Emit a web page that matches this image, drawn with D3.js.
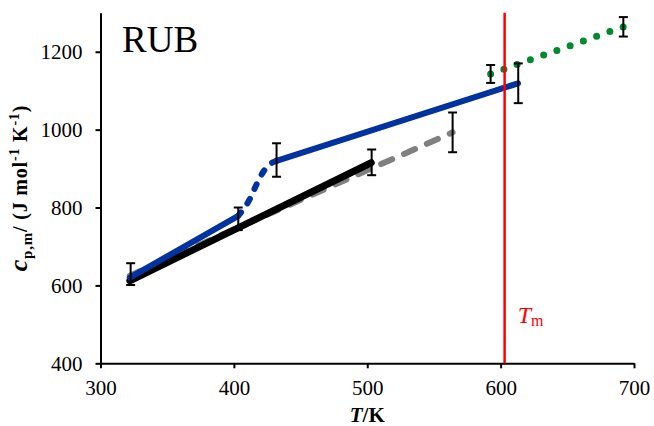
<!DOCTYPE html>
<html>
<head>
<meta charset="utf-8">
<script src="https://cdn.jsdelivr.net/npm/d3@7"></script>
<style>
  body { margin: 0; background: #fff; }
  svg { display: block; }
  .axis path, .axis line { stroke: #000; stroke-width: 2; }
</style>
</head>
<body>
<svg id="chart" width="654" height="426"></svg>
<script>
// Data (T in K, cp,m in J mol-1 K-1)
const xTicks = [300, 400, 500, 600, 700];
const yTicks = [400, 600, 800, 1000, 1200];

// black solid fit
const blackLine = [[322, 612], [503, 915]];
// grey dashed fit
const greyLine = [[322, 625], [564, 993]];
// blue: solid low part, dashed transition, solid high part
const blueLow = [[322, 620], [403, 778]];
const blueStep = [[403, 778], [407, 795], [412, 822], [416, 852], [420, 880], [425, 905], [432, 920]];
const blueHigh = [[432, 920], [613, 1119]];
// green dotted liquid part
const greenLine = [[592.5, 1143], [692, 1264]];

// error bars: temperature, value, half-width
const errT = [322.6, 403.3, 432, 503.3, 564, 613.2, 592.5, 692];
const errV = [629, 771, 922, 916, 993, 1119, 1143, 1264];
const errE = [28, 29, 43, 33, 51, 51, 23, 25];

const meltingT = 603;

// ---------------------------------------------------
const svg = d3.select("#chart");
const margin = { left: 100.5, right: 20, top: 12.8, bottom: 62.7 };
const W = 654, H = 426;
const serif = "'Liberation Serif', 'Times New Roman', serif";

const x = d3.scaleLinear().domain([300, 700]).range([margin.left, W - margin.right]);
const y = d3.scaleLinear().domain([400, 1300]).range([H - margin.bottom, margin.top]);

const line = d3.line().x(d => x(d[0])).y(d => y(d[1]));
const curve = d3.line().x(d => x(d[0])).y(d => y(d[1])).curve(d3.curveMonotoneX);

// Axes
svg.append("g")
    .attr("class", "axis")
    .attr("transform", `translate(0,${y(400)})`)
    .call(d3.axisBottom(x).tickValues(xTicks).tickFormat(d3.format("d"))
        .tickSize(5).tickSizeOuter(0).tickPadding(12))
    .call(g => g.selectAll("text").attr("dy", "0.71em"))
    .attr("font-family", serif).attr("font-size", 21);

svg.append("g")
    .attr("class", "axis")
    .attr("transform", `translate(${x(300)},0)`)
    .call(d3.axisLeft(y).tickValues(yTicks).tickFormat(d3.format("d"))
        .tickSize(5).tickSizeOuter(0).tickPadding(13))
    .attr("font-family", serif).attr("font-size", 21);

// Lines
svg.append("path").attr("d", line(greyLine))
    .attr("fill", "none").attr("stroke", "#808080").attr("stroke-width", 6)
    .attr("stroke-dasharray", "12,13").attr("stroke-linecap", "round");

svg.append("path").attr("d", line(blackLine))
    .attr("fill", "none").attr("stroke", "#000").attr("stroke-width", 7)
    .attr("stroke-linecap", "round");

svg.append("path").attr("d", line(blueLow))
    .attr("fill", "none").attr("stroke", "#0032a0").attr("stroke-width", 6)
    .attr("stroke-linecap", "round");

svg.append("path").attr("d", curve(blueStep))
    .attr("fill", "none").attr("stroke", "#0032a0").attr("stroke-width", 6)
    .attr("stroke-dasharray", "5,11").attr("stroke-linecap", "round");

svg.append("path").attr("d", line(blueHigh))
    .attr("fill", "none").attr("stroke", "#0032a0").attr("stroke-width", 6)
    .attr("stroke-linecap", "round");

// green dotted: 10 gaps between the end points
const green = svg.append("path").attr("d", line(greenLine))
    .attr("fill", "none").attr("stroke", "#008a30").attr("stroke-width", 7)
    .attr("stroke-linecap", "round");
const gLen = green.node().getTotalLength();
green.attr("stroke-dasharray", `0,${gLen / 10 - 0.02}`);

// Error bars
const cap = 4.5;
const bars = svg.append("g").attr("stroke", "#000").attr("stroke-width", 2);
errT.forEach((t, i) => {
    const cx = x(t), y0 = y(errV[i] - errE[i]), y1 = y(errV[i] + errE[i]);
    bars.append("line").attr("x1", cx).attr("x2", cx).attr("y1", y0).attr("y2", y1);
    bars.append("line").attr("x1", cx - cap).attr("x2", cx + cap).attr("y1", y0).attr("y2", y0);
    bars.append("line").attr("x1", cx - cap).attr("x2", cx + cap).attr("y1", y1).attr("y2", y1);
});

// Melting temperature
svg.append("line")
    .attr("x1", x(meltingT)).attr("x2", x(meltingT))
    .attr("y1", y(1300)).attr("y2", y(400))
    .attr("stroke", "#ff0000").attr("stroke-width", 2.5);

const tm = svg.append("text")
    .attr("x", x(meltingT) + 13).attr("y", 323)
    .attr("font-family", serif).attr("fill", "#ff0000");
tm.append("tspan").attr("font-size", 24).attr("font-style", "italic").text("T");
tm.append("tspan").attr("font-size", 16).attr("dy", 3).text("m");

// Title
svg.append("text")
    .attr("x", 122).attr("y", 52)
    .attr("font-family", serif).attr("font-size", 37)
    .text("RUB");

// X label
const xl = svg.append("text")
    .attr("x", x(500)).attr("y", 422)
    .attr("text-anchor", "middle")
    .attr("font-family", serif).attr("font-size", 21).attr("font-weight", "bold");
xl.append("tspan").attr("font-style", "italic").text("T");
xl.append("tspan").text("/K");

// Y label
const yl = svg.append("text")
    .attr("transform", `translate(27,${(y(400) + y(1300)) / 2}) rotate(-90)`)
    .attr("text-anchor", "middle")
    .attr("font-family", serif).attr("font-size", 20).attr("font-weight", "bold")
    .attr("letter-spacing", 0.8);
yl.append("tspan").attr("font-style", "italic").attr("font-size", 26).text("c");
yl.append("tspan").attr("font-size", 15).attr("dy", 5).text("p,m");
yl.append("tspan").attr("dy", -5).text("/ (J mol");
yl.append("tspan").attr("font-size", 14).attr("dy", -8).text("-1");
yl.append("tspan").attr("dy", 8).text(" K");
yl.append("tspan").attr("font-size", 14).attr("dy", -8).text("-1");
yl.append("tspan").attr("dy", 8).text(")");
</script>
</body>
</html>
